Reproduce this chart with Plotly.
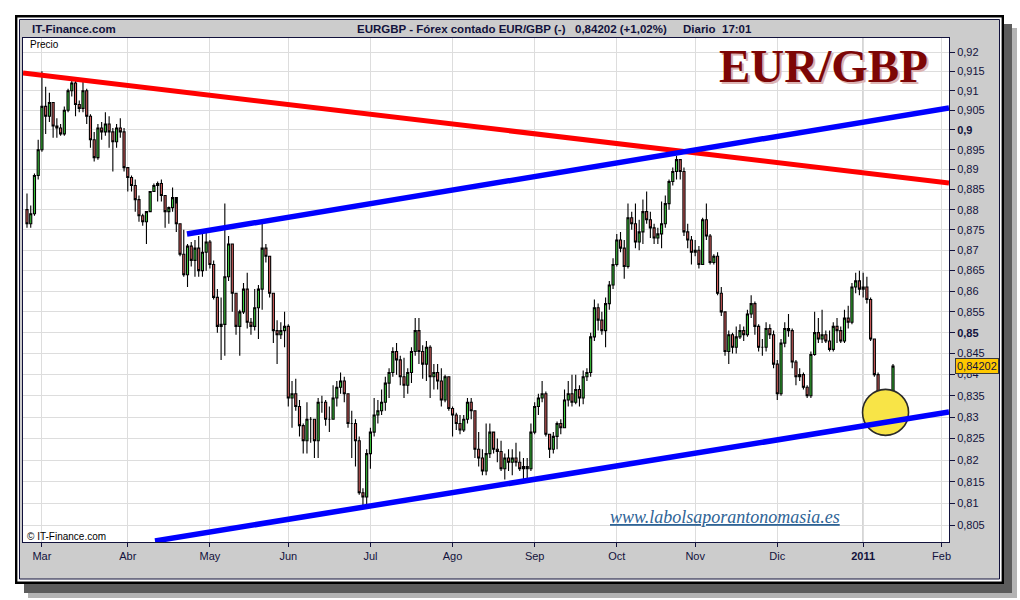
import numpy as np
import pandas as pd
import plotly.graph_objects as go

# ---------------- data (EUR/GBP daily bars, 23 Feb 2010 - 13 Jan 2011) ----------------
bar_dates = pd.bdate_range("2010-02-23", "2011-01-13")

close_prices = [
    # Feb
    0.8765, 0.8790, 0.8885, 0.8950,
    # Mar
    0.9060, 0.9035, 0.9070, 0.9010, 0.9005, 0.8990, 0.9050, 0.9100, 0.9120, 0.9065, 0.9055, 0.9100,
    0.9035, 0.8975, 0.8930, 0.9005, 0.8995, 0.9015, 0.8995, 0.8970, 0.9005, 0.8995, 0.8905,
    # Apr
    0.8880, 0.8860, 0.8825, 0.8785, 0.8770, 0.8795, 0.8845, 0.8860, 0.8865, 0.8835, 0.8795, 0.8805,
    0.8830, 0.8765, 0.8690, 0.8640, 0.8710, 0.8675, 0.8705, 0.8650, 0.8695, 0.8720,
    # May
    0.8665, 0.8585, 0.8515, 0.8520, 0.8635, 0.8715, 0.8595, 0.8515, 0.8550, 0.8605, 0.8525, 0.8515,
    0.8560, 0.8605, 0.8705, 0.8685, 0.8595, 0.8505, 0.8495, 0.8505, 0.8515,
    # Jun
    0.8345, 0.8355, 0.8325, 0.8280, 0.8245, 0.8295, 0.8295, 0.8245, 0.8335, 0.8335, 0.8295, 0.8295,
    0.8345, 0.8370, 0.8385, 0.8355, 0.8285, 0.8285, 0.8245, 0.8125, 0.8115, 0.8215,
    # Jul
    0.8265, 0.8305, 0.8315, 0.8335, 0.8380, 0.8405, 0.8455, 0.8435, 0.8395, 0.8375, 0.8405, 0.8455,
    0.8505, 0.8455, 0.8425, 0.8465, 0.8395, 0.8405, 0.8385, 0.8340, 0.8395, 0.8320,
    # Aug
    0.8305, 0.8285, 0.8270, 0.8295, 0.8335, 0.8315, 0.8225, 0.8205, 0.8175, 0.8215, 0.8265, 0.8225,
    0.8220, 0.8180, 0.8205, 0.8195, 0.8205, 0.8195, 0.8180, 0.8185, 0.8180, 0.8265,
    # Sep
    0.8325, 0.8345, 0.8355, 0.8260, 0.8225, 0.8255, 0.8285, 0.8275, 0.8340, 0.8355, 0.8335, 0.8365,
    0.8345, 0.8395, 0.8405, 0.8490, 0.8560, 0.8530, 0.8505, 0.8570, 0.8615, 0.8665,
    # Oct
    0.8725, 0.8705, 0.8660, 0.8780, 0.8765, 0.8720, 0.8745, 0.8795, 0.8775, 0.8755, 0.8730, 0.8740,
    0.8765, 0.8815, 0.8870, 0.8895, 0.8925, 0.8895, 0.8745, 0.8725, 0.8695,
    # Nov
    0.8700, 0.8665, 0.8775, 0.8735, 0.8670, 0.8685, 0.8595, 0.8550, 0.8455, 0.8495, 0.8465, 0.8490,
    0.8505, 0.8495, 0.8545, 0.8570, 0.8515, 0.8465, 0.8465, 0.8510, 0.8495, 0.8425,
    # Dec
    0.8355, 0.8475, 0.8510, 0.8505, 0.8430, 0.8395, 0.8400, 0.8370, 0.8350, 0.8448, 0.8500, 0.8485,
    0.8495, 0.8480, 0.8460, 0.8515, 0.8505, 0.8480, 0.8535, 0.8525, 0.8610, 0.8625, 0.8605,
    # Jan
    0.8610, 0.8580, 0.8485, 0.8400, 0.8300, 0.8335, 0.8310, 0.8335, 0.84202,
]

open_prices = [
    # Feb
    0.8800, 0.8765, 0.8790, 0.8885,
    # Mar
    0.8950, 0.9060, 0.9035, 0.9070, 0.9010, 0.9005, 0.8990, 0.9050, 0.9100, 0.9120, 0.9065, 0.9055,
    0.9100, 0.9035, 0.8975, 0.8930, 0.9005, 0.8995, 0.9015, 0.8995, 0.8970, 0.9005, 0.8995,
    # Apr
    0.8905, 0.8880, 0.8860, 0.8825, 0.8785, 0.8770, 0.8795, 0.8845, 0.8860, 0.8865, 0.8835, 0.8795,
    0.8805, 0.8830, 0.8765, 0.8690, 0.8640, 0.8710, 0.8675, 0.8705, 0.8650, 0.8695,
    # May
    0.8720, 0.8665, 0.8585, 0.8515, 0.8520, 0.8635, 0.8715, 0.8595, 0.8515, 0.8550, 0.8605, 0.8525,
    0.8515, 0.8560, 0.8605, 0.8705, 0.8685, 0.8595, 0.8505, 0.8495, 0.8505,
    # Jun
    0.8515, 0.8345, 0.8355, 0.8325, 0.8280, 0.8245, 0.8295, 0.8295, 0.8245, 0.8335, 0.8335, 0.8295,
    0.8295, 0.8345, 0.8370, 0.8385, 0.8355, 0.8285, 0.8285, 0.8245, 0.8125, 0.8115,
    # Jul
    0.8215, 0.8265, 0.8305, 0.8315, 0.8335, 0.8380, 0.8405, 0.8455, 0.8435, 0.8395, 0.8375, 0.8405,
    0.8455, 0.8505, 0.8455, 0.8425, 0.8465, 0.8395, 0.8405, 0.8385, 0.8340, 0.8395,
    # Aug
    0.8320, 0.8305, 0.8285, 0.8270, 0.8295, 0.8335, 0.8315, 0.8225, 0.8205, 0.8175, 0.8215, 0.8265,
    0.8225, 0.8220, 0.8180, 0.8205, 0.8195, 0.8205, 0.8195, 0.8180, 0.8185, 0.8180,
    # Sep
    0.8265, 0.8325, 0.8345, 0.8355, 0.8260, 0.8225, 0.8255, 0.8285, 0.8275, 0.8340, 0.8355, 0.8335,
    0.8365, 0.8345, 0.8395, 0.8405, 0.8490, 0.8560, 0.8530, 0.8505, 0.8570, 0.8615,
    # Oct
    0.8665, 0.8725, 0.8705, 0.8660, 0.8780, 0.8765, 0.8720, 0.8745, 0.8795, 0.8775, 0.8755, 0.8730,
    0.8740, 0.8765, 0.8815, 0.8870, 0.8895, 0.8925, 0.8895, 0.8745, 0.8725,
    # Nov
    0.8695, 0.8700, 0.8665, 0.8775, 0.8735, 0.8670, 0.8685, 0.8595, 0.8550, 0.8455, 0.8495, 0.8465,
    0.8490, 0.8505, 0.8495, 0.8545, 0.8570, 0.8515, 0.8465, 0.8465, 0.8510, 0.8495,
    # Dec
    0.8425, 0.8355, 0.8475, 0.8510, 0.8505, 0.8430, 0.8395, 0.8400, 0.8370, 0.8350, 0.8448, 0.8500,
    0.8485, 0.8495, 0.8480, 0.8460, 0.8515, 0.8505, 0.8480, 0.8535, 0.8525, 0.8610, 0.8625,
    # Jan
    0.8605, 0.8610, 0.8580, 0.8485, 0.8400, 0.8300, 0.8335, 0.8310, 0.8335,
]

high_prices = [
    # Feb
    0.8840, 0.8810, 0.8890, 0.8975,
    # Mar
    0.9150, 0.9110, 0.9095, 0.9070, 0.9030, 0.9015, 0.9060, 0.9105, 0.9135, 0.9135, 0.9075, 0.9125,
    0.9105, 0.9040, 0.8995, 0.9015, 0.9020, 0.9045, 0.9035, 0.9005, 0.9015, 0.9030, 0.9005,
    # Apr
    0.8905, 0.8885, 0.8875, 0.8835, 0.8790, 0.8795, 0.8845, 0.8865, 0.8870, 0.8875, 0.8835, 0.8808,
    0.8855, 0.8815, 0.8765, 0.8750, 0.8715, 0.8720, 0.8725, 0.8735, 0.8745, 0.8750,
    # May
    0.8725, 0.8675, 0.8605, 0.8585, 0.8815, 0.8735, 0.8715, 0.8595, 0.8555, 0.8620, 0.8645, 0.8535,
    0.8605, 0.8615, 0.8765, 0.8715, 0.8685, 0.8595, 0.8530, 0.8525, 0.8550,
    # Jun
    0.8520, 0.8385, 0.8390, 0.8340, 0.8285, 0.8335, 0.8300, 0.8295, 0.8345, 0.8350, 0.8340, 0.8325,
    0.8375, 0.8385, 0.8405, 0.8395, 0.8355, 0.8315, 0.8295, 0.8255, 0.8135, 0.8225,
    # Jul
    0.8275, 0.8345, 0.8340, 0.8365, 0.8395, 0.8415, 0.8465, 0.8475, 0.8445, 0.8440, 0.8415, 0.8465,
    0.8535, 0.8535, 0.8470, 0.8480, 0.8470, 0.8425, 0.8425, 0.8415, 0.8400, 0.8395,
    # Aug
    0.8325, 0.8310, 0.8305, 0.8305, 0.8345, 0.8345, 0.8315, 0.8265, 0.8225, 0.8285, 0.8285, 0.8265,
    0.8250, 0.8245, 0.8215, 0.8225, 0.8225, 0.8240, 0.8220, 0.8205, 0.8205, 0.8285,
    # Sep
    0.8335, 0.8355, 0.8385, 0.8360, 0.8260, 0.8265, 0.8290, 0.8295, 0.8365, 0.8385, 0.8400, 0.8400,
    0.8375, 0.8410, 0.8415, 0.8500, 0.8580, 0.8570, 0.8550, 0.8585, 0.8625, 0.8680,
    # Oct
    0.8740, 0.8745, 0.8725, 0.8815, 0.8795, 0.8815, 0.8775, 0.8825, 0.8845, 0.8795, 0.8765, 0.8755,
    0.8820, 0.8835, 0.8875, 0.8905, 0.8935, 0.8925, 0.8905, 0.8765, 0.8735,
    # Nov
    0.8725, 0.8710, 0.8780, 0.8815, 0.8740, 0.8690, 0.8695, 0.8610, 0.8550, 0.8505, 0.8500, 0.8515,
    0.8520, 0.8515, 0.8555, 0.8590, 0.8575, 0.8520, 0.8485, 0.8525, 0.8520, 0.8505,
    # Dec
    0.8435, 0.8485, 0.8525, 0.8545, 0.8510, 0.8435, 0.8415, 0.8405, 0.8375, 0.8455, 0.8550, 0.8535,
    0.8555, 0.8505, 0.8505, 0.8525, 0.8535, 0.8515, 0.8555, 0.8565, 0.8620, 0.8645, 0.8650,
    # Jan
    0.8645, 0.8635, 0.8585, 0.8485, 0.8405, 0.8355, 0.8355, 0.8350, 0.8425,
]

low_prices = [
    # Feb
    0.8755, 0.8755, 0.8785, 0.8875,
    # Mar
    0.8945, 0.8990, 0.9020, 0.8980, 0.8980, 0.8985, 0.8985, 0.9045, 0.9085, 0.9035, 0.9045, 0.9045,
    0.9015, 0.8955, 0.8920, 0.8925, 0.8975, 0.8985, 0.8955, 0.8895, 0.8955, 0.8980, 0.8895,
    # Apr
    0.8845, 0.8845, 0.8795, 0.8770, 0.8760, 0.8715, 0.8795, 0.8845, 0.8820, 0.8820, 0.8755, 0.8765,
    0.8795, 0.8745, 0.8685, 0.8635, 0.8610, 0.8660, 0.8635, 0.8635, 0.8635, 0.8650,
    # May
    0.8655, 0.8580, 0.8500, 0.8435, 0.8445, 0.8625, 0.8550, 0.8495, 0.8445, 0.8545, 0.8510, 0.8495,
    0.8505, 0.8485, 0.8555, 0.8670, 0.8585, 0.8475, 0.8425, 0.8485, 0.8465,
    # Jun
    0.8325, 0.8275, 0.8315, 0.8255, 0.8215, 0.8215, 0.8240, 0.8205, 0.8205, 0.8310, 0.8280, 0.8265,
    0.8295, 0.8325, 0.8355, 0.8335, 0.8275, 0.8205, 0.8185, 0.8120, 0.8095, 0.8095,
    # Jul
    0.8180, 0.8255, 0.8285, 0.8305, 0.8315, 0.8345, 0.8395, 0.8400, 0.8375, 0.8345, 0.8355, 0.8380,
    0.8445, 0.8425, 0.8390, 0.8385, 0.8345, 0.8365, 0.8365, 0.8325, 0.8335, 0.8315,
    # Aug
    0.8255, 0.8270, 0.8260, 0.8265, 0.8285, 0.8295, 0.8205, 0.8185, 0.8165, 0.8165, 0.8205, 0.8215,
    0.8195, 0.8175, 0.8155, 0.8175, 0.8165, 0.8185, 0.8175, 0.8155, 0.8155, 0.8175,
    # Sep
    0.8260, 0.8305, 0.8335, 0.8255, 0.8205, 0.8215, 0.8225, 0.8260, 0.8275, 0.8325, 0.8325, 0.8330,
    0.8325, 0.8330, 0.8385, 0.8395, 0.8480, 0.8505, 0.8495, 0.8465, 0.8555, 0.8605,
    # Oct
    0.8660, 0.8695, 0.8630, 0.8655, 0.8750, 0.8705, 0.8700, 0.8715, 0.8765, 0.8730, 0.8715, 0.8715,
    0.8705, 0.8755, 0.8800, 0.8860, 0.8875, 0.8875, 0.8735, 0.8705, 0.8665,
    # Nov
    0.8685, 0.8655, 0.8665, 0.8725, 0.8665, 0.8665, 0.8590, 0.8540, 0.8445, 0.8425, 0.8450, 0.8450,
    0.8485, 0.8480, 0.8490, 0.8535, 0.8495, 0.8455, 0.8445, 0.8455, 0.8485, 0.8415,
    # Dec
    0.8340, 0.8350, 0.8465, 0.8490, 0.8415, 0.8375, 0.8385, 0.8365, 0.8345, 0.8345, 0.8445, 0.8475,
    0.8475, 0.8475, 0.8455, 0.8455, 0.8475, 0.8475, 0.8475, 0.8510, 0.8520, 0.8595, 0.8590,
    # Jan
    0.8585, 0.8570, 0.8480, 0.8395, 0.8295, 0.8290, 0.8290, 0.8305, 0.8315,
]

# month ticks of the time axis (trading-day axis)
tick_dates = ["2010-03-01", "2010-04-01", "2010-05-03", "2010-06-01", "2010-07-01", "2010-08-02",
              "2010-09-01", "2010-10-01", "2010-11-01", "2010-12-01", "2011-01-03", "2011-02-01"]
tick_labels = ["Mar", "Abr", "May", "Jun", "Jul", "Ago", "Sep", "Oct", "Nov", "Dic", "<b>2011</b>", "Feb"]

# price axis ticks
price_ticks = [0.805, 0.81, 0.815, 0.82, 0.825, 0.83, 0.835, 0.84, 0.845, 0.85, 0.855, 0.86,
               0.865, 0.87, 0.875, 0.88, 0.885, 0.89, 0.895, 0.90, 0.905, 0.91, 0.915, 0.92]
price_tick_labels = ["0,805", "0,81", "0,815", "0,82", "0,825", "0,83", "0,835", "0,84", "0,845",
                     "<b>0,85</b>", "0,855", "0,86", "0,865", "0,87", "0,875", "0,88", "0,885",
                     "0,89", "0,895", "<b>0,9</b>", "0,905", "0,91", "0,915", "0,92"]

# trend lines drawn on the chart (bar index, price)
red_line_x = [-1.07, 247.0]
red_line_y = [0.91457, 0.88664]
blue_upper_x = [42.86, 247.0]
blue_upper_y = [0.87398, 0.90559]
blue_lower_x = [34.29, 247.0]
blue_lower_y = [0.80152, 0.83120]

# highlighted zone (yellow circle) and last price
highlight_x = [230]
highlight_y = [0.8311]
last_price = 0.84202

n = len(close_prices)
assert n == len(open_prices) == len(high_prices) == len(low_prices) == len(bar_dates), \
    (n, len(open_prices), len(high_prices), len(low_prices), len(bar_dates))

axis_dates = pd.bdate_range("2010-02-23", "2011-02-28")
tick_pos = [int(axis_dates.get_loc(pd.Timestamp(d))) for d in tick_dates]
x_idx = list(range(n))

NAVY = "#12123c"
FONT = "Liberation Sans, Arial, sans-serif"

fig = go.Figure()

# yellow highlight circle (under everything)
fig.add_trace(go.Scatter(
    x=highlight_x, y=highlight_y, mode="markers",
    marker=dict(size=46, color="#f8e447", line=dict(color="#2a2a2a", width=1.6)),
    hoverinfo="skip", showlegend=False))

# trend lines
fig.add_trace(go.Scatter(x=red_line_x, y=red_line_y, mode="lines",
                         line=dict(color="#ff0000", width=5), hoverinfo="skip", showlegend=False))
fig.add_trace(go.Scatter(x=blue_upper_x, y=blue_upper_y, mode="lines",
                         line=dict(color="#0000ff", width=5.5), hoverinfo="skip", showlegend=False))
fig.add_trace(go.Scatter(x=blue_lower_x, y=blue_lower_y, mode="lines",
                         line=dict(color="#0000ff", width=5.5), hoverinfo="skip", showlegend=False))

# candles
fig.add_trace(go.Candlestick(
    x=x_idx, open=open_prices, high=high_prices, low=low_prices, close=close_prices,
    text=[d.strftime("%d/%m/%Y") for d in bar_dates],
    increasing=dict(line=dict(color="#000000", width=1.1), fillcolor="#3ccc3c"),
    decreasing=dict(line=dict(color="#000000", width=1.1), fillcolor="#e06464"),
    whiskerwidth=0, showlegend=False))


# ---------------- frame ----------------
L, R, T, B = 23, 949, 38, 542


def px(x):
    return (x - L) / (R - L)


def py(y):
    return (B - y) / (B - T)


def prect(x0, y0, x1, y1, fill, line=None, lw=0):
    return dict(type="rect", xref="paper", yref="paper", layer="below",
                x0=px(x0), x1=px(x1), y0=py(y1), y1=py(y0),
                fillcolor=fill, line=dict(color=line or fill, width=lw))


shapes = [
    prect(28, 28, 1017, 598, "#b4b4b4"),
    prect(24, 24, 1012, 593, "#5c5c5c"),
    prect(15, 15, 1004, 584, "#000000"),
    prect(17.4, 17.4, 1001.6, 581.6, "#ffffff"),
    prect(19.5, 19.5, 999.5, 579, "#cccccc", NAVY, 1),
    prect(L, T, R, B, "#ffffff"),
    dict(type="line", xref="x", yref="paper", x0=tick_pos[10], x1=tick_pos[10], y0=0, y1=1,
         layer="between", line=dict(color="#a3a3a3", width=1.2)),
]

HEAD = 11.5
annotations = [
    dict(text="<b>IT-Finance.com</b>", x=px(30), y=py(29)),
    dict(text="<b>EURGBP - Fórex contado EUR/GBP (-)</b>", x=px(355), y=py(29)),
    dict(text="<b>0,84202 (+1,02%)</b>", x=px(573), y=py(29)),
    dict(text="<b>Diario\u00a0 17:01</b>", x=px(681), y=py(29)),
]
for a in annotations:
    a.update(xref="paper", yref="paper", xanchor="left", yanchor="middle", showarrow=False,
             font=dict(family=FONT, size=HEAD, color=NAVY))

annotations += [
    dict(text="Precio", x=px(27.5), y=py(44.5), xref="paper", yref="paper", xanchor="left",
         yanchor="middle", showarrow=False, font=dict(family=FONT, size=10, color="#000000")),
    dict(text="© IT-Finance.com", x=px(25), y=py(536), xref="paper", yref="paper", xanchor="left",
         yanchor="middle", showarrow=False, font=dict(family=FONT, size=10, color="#000000")),
    dict(text="<i><u>www.labolsaporantonomasia.es</u></i>", x=px(725), y=py(517), xref="paper",
         yref="paper", xanchor="center", yanchor="middle", showarrow=False,
         font=dict(family="Liberation Serif, serif", size=18, color="#2f6496")),
    dict(text="<b>EUR/GBP</b>", x=px(825), y=py(67.5), xref="paper", yref="paper", xanchor="center",
         yanchor="middle", showarrow=False,
         font=dict(family="Liberation Serif, serif", size=47, color="#dcb4b4")),
    dict(text="<b>EUR/GBP</b>", x=px(823), y=py(65.5), xref="paper", yref="paper", xanchor="center",
         yanchor="middle", showarrow=False,
         font=dict(family="Liberation Serif, serif", size=47, color="#7d0606")),
    dict(text="0,84202", x=px(954.5), y=np.log10(last_price), xref="paper", yref="y",
         xanchor="left", yanchor="middle", showarrow=False, bgcolor="#ffc800",
         bordercolor="#3a3a3a", borderwidth=1, borderpad=1,
         font=dict(family=FONT, size=11, color=NAVY)),
]

fig.update_layout(
    width=1020, height=600,
    margin=dict(l=L, r=1020 - R, t=T, b=600 - B),
    paper_bgcolor="#ffffff", plot_bgcolor="#ffffff",
    showlegend=False, hovermode="closest", boxgap=0.2,
    shapes=shapes, annotations=annotations,
    xaxis=dict(
        range=[-1.07, 247.0], tickmode="array", tickvals=tick_pos, ticktext=tick_labels,
        showgrid=True, gridcolor="#dddddd", gridwidth=1, zeroline=False,
        ticks="outside", ticklen=4, tickcolor=NAVY, showline=True, linecolor=NAVY, linewidth=1,
        mirror=True, rangeslider=dict(visible=False),
        tickfont=dict(family=FONT, size=11, color=NAVY)),
    yaxis=dict(
        type="log", side="right",
        range=[np.log10(0.80128), np.log10(0.92364)],
        tickmode="array", tickvals=price_ticks, ticktext=price_tick_labels,
        showgrid=True, gridcolor="#dddddd", gridwidth=1, zeroline=False,
        ticks="outside", ticklen=5, tickcolor=NAVY, showline=True, linecolor=NAVY, linewidth=1,
        mirror=True, tickfont=dict(family=FONT, size=11, color=NAVY)),
)

fig.write_html("out.html", config={"displayModeBar": False},
               post_script="document.body.style.margin='0px';")
